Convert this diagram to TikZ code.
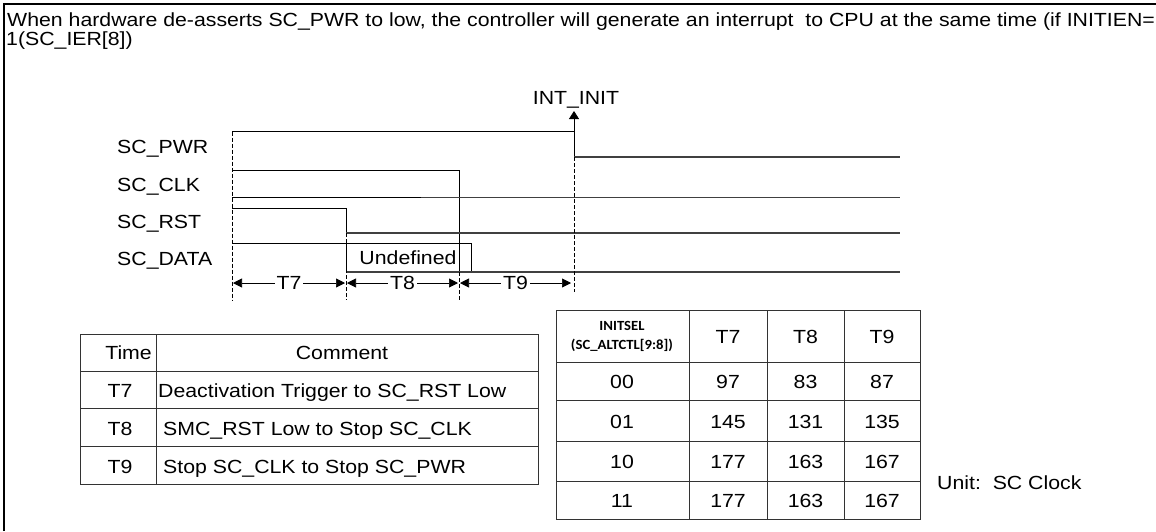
\documentclass[tikz,border=0pt]{standalone}
\usepackage{fontspec}
\setmainfont{Liberation Sans}[FakeStretch=1.12]
\newfontfamily\hdrfont{Carlito}[FakeStretch=1.05]
\usetikzlibrary{arrows.meta}
\begin{document}
\begin{tikzpicture}[x=1pt,y=-1pt,
  txt/.style={font=\fontsize{19}{22}\selectfont, inner sep=0pt},
  hdr/.style={font=\hdrfont\bfseries\fontsize{14}{19}\selectfont, inner sep=0pt, align=center},
  sig/.style={line width=0.8pt, black},
  lowsig/.style={line width=1.4pt, black!75},
  guide/.style={line width=0.7pt, dash pattern=on 4pt off 2pt},
  tarrow/.style={{Triangle[length=9pt,width=9pt]}-{Triangle[length=9pt,width=9pt]}, line width=0.7pt},
  gridl/.style={line width=0.9pt, black!80},
]
\useasboundingbox (0,0) rectangle (1156,531);
\clip (0,0) rectangle (1156,531);
\fill[white] (0,0) rectangle (1156,531);
% frame
\draw[line width=2pt] (4,531) -- (4,4) -- (1160,4);
% heading text
\node[txt, anchor=base west] (l1) at (7,26) {When hardware de-asserts SC\_PWR to low, the controller will generate an interrupt\ \ to CPU at the same time (if INITIEN=};
\node[txt, anchor=base west] (l2) at (6,45) {1(SC\_IER[8])};
% INT label
\node[txt, anchor=base] (int) at (576,104) {INT\_INIT};
% signal labels
\node[txt, anchor=base west] (pwr) at (117,153) {SC\_PWR};
\node[txt, anchor=base west] (clk) at (117,191) {SC\_CLK};
\node[txt, anchor=base west] (rst) at (117,228) {SC\_RST};
\node[txt, anchor=base west] (dat) at (117,265.5) {SC\_DATA};
% coordinates
\coordinate (a0) at (232,131.5);
\coordinate (a1) at (574,131.5);
\coordinate (a2) at (574,157);
\coordinate (a3) at (900,157);
\coordinate (ai) at (574,111);
% SC_PWR
\draw[sig] (a0) -- (a1) -- (a2);
\draw[lowsig] (a2) -- (a3);
\draw[sig, -{Triangle[length=8pt,width=10pt]}] (a1) -- (ai);
% SC_CLK
\draw[sig] (232,170) -- (459,170) -- (459,272);
\draw[sig] (232,197.5) -- (421,197.5);
\draw[lowsig] (421,197.5) -- (900,197.5);
% SC_RST
\draw[sig] (232,208) -- (346,208) -- (346,233);
\draw[lowsig] (346,233) -- (900,233);
% SC_DATA
\draw[sig] (232,243) -- (471,243) -- (471,272);
\draw[sig] (346,243) -- (346,272);
\draw[lowsig] (346,272) -- (900,272);
\node[txt, anchor=base] (undef) at (408,264) {Undefined};
% guides
\draw[guide] (232,131.5) -- (232,300);
\draw[guide] (346,233) -- (346,300);
\draw[guide] (459,272) -- (459,300);
\draw[guide] (574,157) -- (574,292);
% timing arrows
\draw[tarrow] (233,283) -- node[txt, fill=white, inner xsep=2pt, inner ysep=1pt] (t7) {T7} (345,283);
\draw[tarrow] (347,283) -- node[txt, fill=white, inner xsep=2pt, inner ysep=1pt] (t8) {T8} (458,283);
\draw[tarrow] (460,283) -- node[txt, fill=white, inner xsep=2pt, inner ysep=1pt] (t9) {T9} (571,283);
% left table
\draw[gridl] (80,334) rectangle (538,484);
\foreach \yy in {371,408,446} \draw[gridl] (80,\yy) -- (538,\yy);
\draw[gridl] (156,334) -- (156,484);
\node[txt, anchor=base east] (hT) at (152,359) {Time};
\node[txt, anchor=base] (hC) at (342,359) {Comment};
\node[txt, anchor=base] (r7) at (120,397) {T7};
\node[txt, anchor=base] (r8) at (120,435) {T8};
\node[txt, anchor=base] (r9) at (120,473) {T9};
\node[txt, anchor=base west] (c7) at (158,397) {Deactivation Trigger to SC\_RST Low};
\node[txt, anchor=base west] (c8) at (163,435) {SMC\_RST Low to Stop SC\_CLK};
\node[txt, anchor=base west] (c9) at (163,473) {Stop SC\_CLK to Stop SC\_PWR};
% right table
\draw[gridl] (556,310) rectangle (920,519);
\foreach \yy in {362,400,441,481} \draw[gridl] (556,\yy) -- (920,\yy);
\foreach \xx in {689,767,844} \draw[gridl] (\xx,310) -- (\xx,519);
\node[hdr] (hsel) at (622,336) {INITSEL\\(SC\_ALTCTL[9:8])};
\node[txt, anchor=base] (h7) at (728,343) {T7};
\node[txt, anchor=base] (h8) at (805.5,343) {T8};
\node[txt, anchor=base] (h9) at (882,343) {T9};
\foreach \v/\a/\b/\c [count=\i] in {00/97/83/87, 01/145/131/135, 10/177/163/167, 11/177/163/167}{
  \pgfmathsetmacro{\yb}{{388,428,468,507}[\i-1]}
  \node[txt, anchor=base] (s\i) at (622,\yb) {\v};
  \node[txt, anchor=base] (p\i) at (728,\yb) {\a};
  \node[txt, anchor=base] (q\i) at (805.5,\yb) {\b};
  \node[txt, anchor=base] (w\i) at (882,\yb) {\c};
}
\node[txt, anchor=base west] (unit) at (937,489) {Unit:\ \ SC Clock};
\end{tikzpicture}
\end{document}
